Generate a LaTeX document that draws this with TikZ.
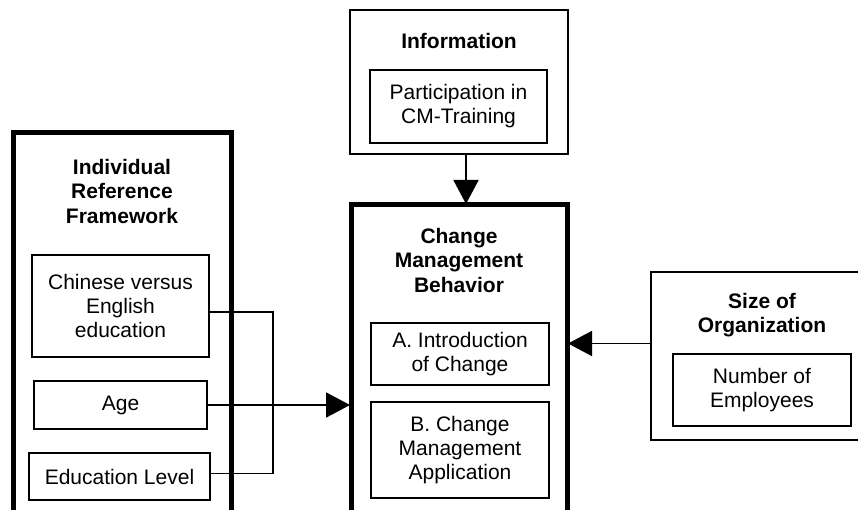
\documentclass[tikz,border=0pt]{standalone}
\usepackage{fontspec}
\setmainfont{Liberation Sans}
\usetikzlibrary{arrows.meta}
\begin{document}
\begin{tikzpicture}[x=1pt,y=-1pt,
  every node/.style={font=\fontsize{21}{24}\selectfont},
  outerthick/.style={draw, line width=5pt, inner sep=0pt, minimum width=#1},
  outerthin/.style={draw, line width=2pt, inner sep=0pt, minimum width=#1},
  innerbox/.style={draw, line width=1.7pt, inner sep=0pt, align=center, minimum width=#1},
  titletext/.style={anchor=north, inner sep=0pt, align=center, font=\fontsize{21}{24.5}\selectfont\bfseries},
  conn/.style={line width=1.8pt},
  arr/.style={line width=1.8pt, -{Triangle[length=24pt,width=25pt]}, shorten >=-1.5pt}
]
\useasboundingbox (0,0) rectangle (858,510);
\clip (0,0) rectangle (858,510);
% outer boxes
\node[outerthick=218pt, minimum height=407pt] (irf) at (122,336.5) {};
\node[outerthin=218pt, minimum height=144pt] (info) at (459,82) {};
\node[outerthick=216pt, minimum height=335pt] (cmb) at (459,372.5) {};
\node[outerthin=229pt, minimum height=168pt] (size) at (765.5,356) {};
% titles
\node[titletext] (irft) at (122,159) {Individual\\Reference\\Framework};
\node[titletext] (infot) at (459,33) {Information};
\node[titletext] (cmbt) at (459,228) {Change\\Management\\Behavior};
\node[titletext] (sizet) at (762,293) {Size of\\Organization};
% inner boxes
\node[innerbox=177pt, minimum height=102pt] (chinese) at (120.5,306) {Chinese versus\\English\\education};
\node[innerbox=173pt, minimum height=48pt] (age) at (120.5,405) {Age};
\node[innerbox=181pt, minimum height=47pt] (edu) at (119.5,476.5) {Education Level};
\node[innerbox=177pt, minimum height=73pt] (part) at (458.5,106.5) {Participation in\\CM-Training};
\node[innerbox=178pt, minimum height=62pt] (intro) at (460,354) {A. Introduction\\of Change};
\node[innerbox=178pt, minimum height=96pt] (appl) at (460,450) {B. Change\\Management\\Application};
\node[innerbox=178pt, minimum height=72pt] (emp) at (762,390) {Number of\\Employees};
% connectors
\coordinate (bus) at (273,312);
\draw[conn] ([yshift=-6pt]chinese.east) -- (bus) |- ([yshift=3pt]edu.east);
\draw[arr] (age.east) -- (age.east -| cmb.west);
\draw[arr] ([xshift=7pt]info.south) -- ([xshift=7pt]cmb.north);
\draw[arr] ([yshift=12.5pt]size.west) -- ([yshift=12.5pt]size.west -| cmb.east);
\end{tikzpicture}
\end{document}
